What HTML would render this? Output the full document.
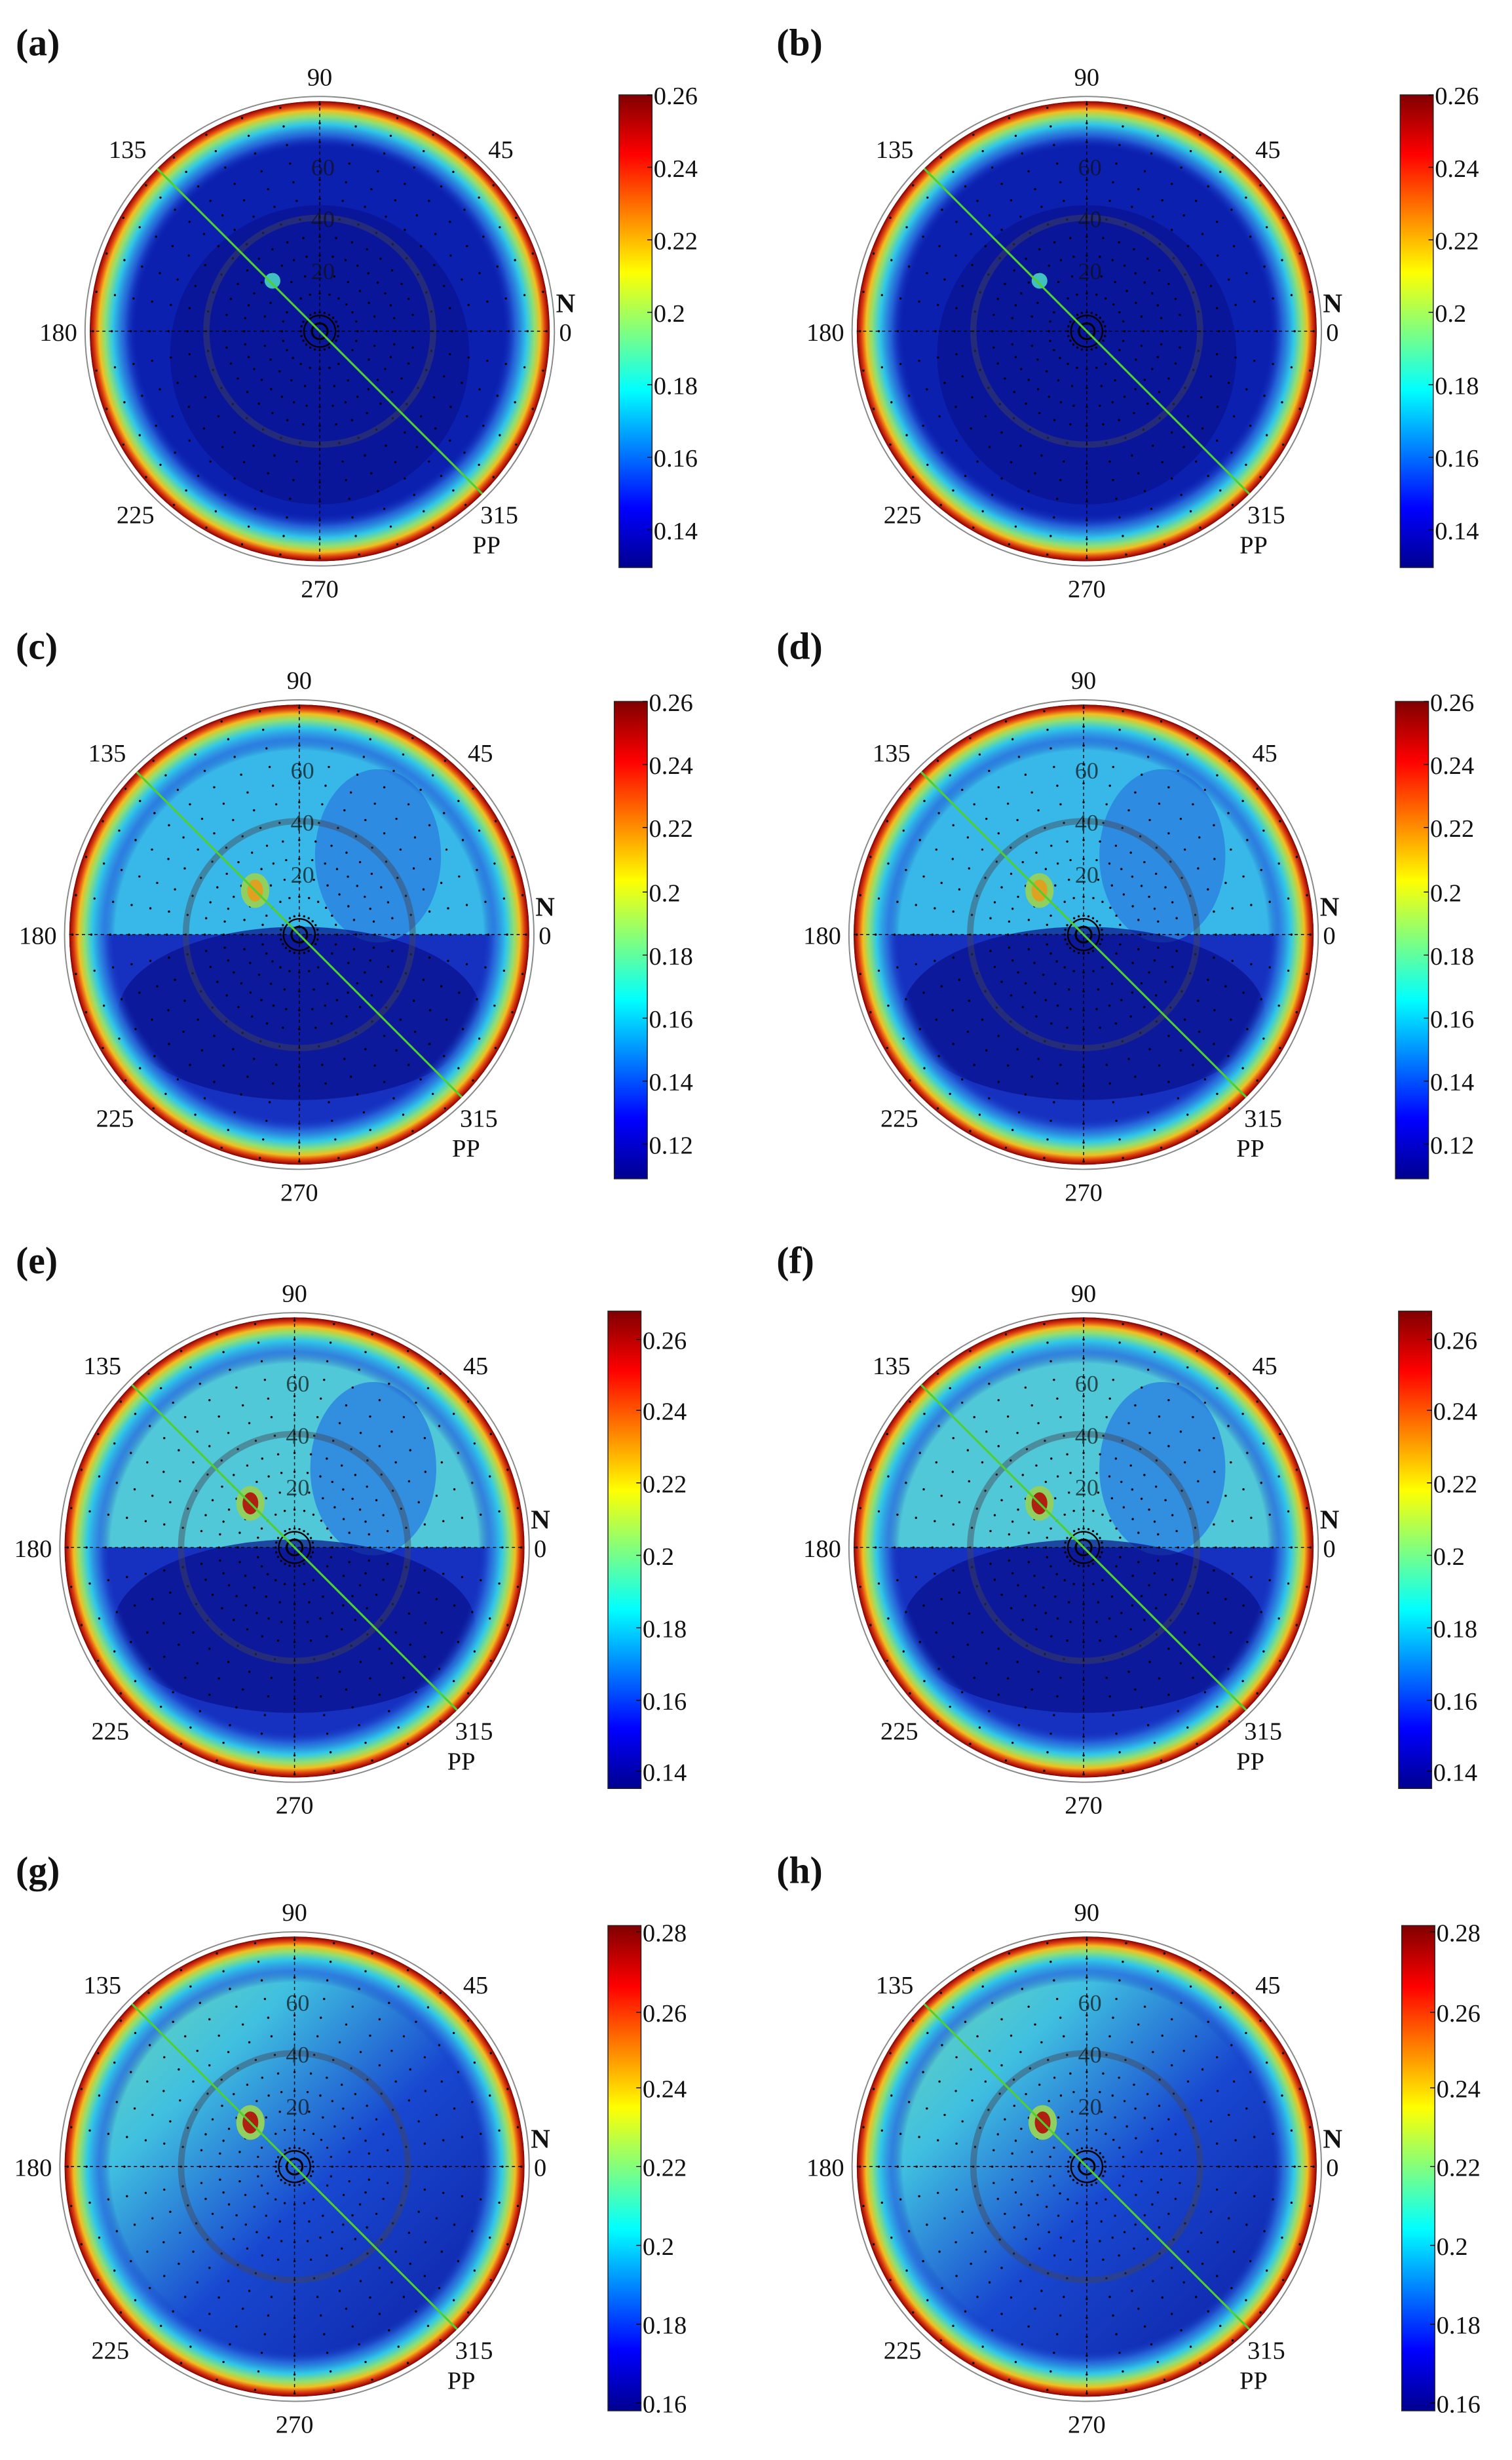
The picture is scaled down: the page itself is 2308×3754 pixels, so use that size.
<!DOCTYPE html>
<html><head><meta charset="utf-8"><style>
html,body{margin:0;padding:0;background:#fff;}
svg{display:block;}
text{font-family:"Liberation Serif",serif;fill:#111;}
</style></head><body>
<svg id="s" width="2308" height="3754" viewBox="0 0 960 1561" xmlns="http://www.w3.org/2000/svg">
<defs>
<radialGradient id="ring" cx="0.5" cy="0.5" r="0.5">
<stop offset="0" stop-color="#1030c0" stop-opacity="0"/>
<stop offset="0.80" stop-color="#1030c0" stop-opacity="0"/>
<stop offset="0.85" stop-color="#2a70e0" stop-opacity="0.8"/>
<stop offset="0.90" stop-color="#30c8e8"/>
<stop offset="0.935" stop-color="#90e070"/>
<stop offset="0.96" stop-color="#f0c020"/>
<stop offset="0.98" stop-color="#e04010"/>
<stop offset="1" stop-color="#8a0000"/>
</radialGradient>
<linearGradient id="jet" x1="0" y1="1" x2="0" y2="0">
<stop offset="0" stop-color="#00008f"/>
<stop offset="0.125" stop-color="#0000ff"/>
<stop offset="0.375" stop-color="#00ffff"/>
<stop offset="0.625" stop-color="#ffff00"/>
<stop offset="0.875" stop-color="#ff0000"/>
<stop offset="1" stop-color="#800000"/>
</linearGradient>
<linearGradient id="gdiag" x1="0" y1="0" x2="1" y2="1">
<stop offset="0" stop-color="#80e0a0"/>
<stop offset="0.3" stop-color="#40c0e0"/>
<stop offset="0.55" stop-color="#1848d0"/>
<stop offset="1" stop-color="#0a1498"/>
</linearGradient>
</defs>
<g id="root"></g>
</svg>
<script>
var P=[
["(a)",203,210,393,60,360,[[.26,60],[.24,106],[.22,152],["0.2",198],[.18,244],[.16,290],[.14,336]],"a"],
["(b)",690,210,889,60,360,[[.26,60],[.24,106],[.22,152],["0.2",198],[.18,244],[.16,290],[.14,336]],"a"],
["(c)",190,593,390,445,748,[[.26,445],[.24,485],[.22,525],["0.2",566],[.18,606],[.16,646],[.14,686],[.12,726]],"c"],
["(d)",688,593,886,445,748,[[.26,445],[.24,485],[.22,525],["0.2",566],[.18,606],[.16,646],[.14,686],[.12,726]],"c"],
["(e)",187,982,386,832,1135,[[.26,850],[.24,895],[.22,941],["0.2",987],[.18,1033],[.16,1079],[.14,1124]],"e"],
["(f)",688,982,888,832,1135,[[.26,850],[.24,895],[.22,941],["0.2",987],[.18,1033],[.16,1079],[.14,1124]],"e"],
["(g)",187,1375,386,1222,1530,[[.28,1226],[.26,1277],[.24,1325],[.22,1375],["0.2",1425],[.18,1475],[.16,1525]],"g"],
["(h)",690,1375,890,1222,1530,[[.28,1226],[.26,1277],[.24,1325],[.22,1375],["0.2",1425],[.18,1475],[.16,1525]],"g"]];
var LY=[35,35,418,418,808,808,1195,1195];
var h="";
function t(x,y,s,sz,extra){return '<text x="'+x+'" y="'+y+'" font-size="'+(sz||16)+'" '+(extra||'')+'>'+s+'</text>';}
P.forEach(function(p,i){
 var L=p[0],cx=p[1],cy=p[2],R=146,ty=p[7];
 var lx=(i%2==0)?10:493;
 h+=t(lx,LY[i],L,24,'font-weight="bold"');
 h+='<circle cx="'+cx+'" cy="'+cy+'" r="'+(R+3)+'" fill="#fff" stroke="#888" stroke-width="0.8"/>';
 if(ty=="g"){
  h+='<circle cx="'+cx+'" cy="'+cy+'" r="'+R+'" fill="url(#gdiag)"/>';
 } else {
  h+='<circle cx="'+cx+'" cy="'+cy+'" r="'+R+'" fill="'+(ty=="a"?"#0c20b0":"#1630c0")+'"/>';
  if(ty=="a"){
   h+='<circle cx="'+cx+'" cy="'+(cy+15)+'" r="95" fill="#081290" opacity="0.7"/>';
  } else {
   var col=ty=="c"?"#38b8e8":"#50c8d8";
   h+='<path d="M'+(cx-R)+','+cy+' A'+R+','+R+' 0 0 1 '+(cx+R)+','+cy+' Z" fill="'+col+'"/>';
   h+='<ellipse cx="'+(cx+50)+'" cy="'+(cy-50)+'" rx="40" ry="55" fill="#2a80e0" opacity="0.8"/>';
   h+='<ellipse cx="'+cx+'" cy="'+(cy+50)+'" rx="115" ry="55" fill="#08108a" opacity="0.7"/>';
  }
 }
 h+='<circle cx="'+cx+'" cy="'+cy+'" r="'+R+'" fill="url(#ring)"/>';
 for(var r=12;r<R;r+=12){for(var a=0;a<360;a+=(r<40?15:10)){var ar=a*Math.PI/180;h+='<circle cx="'+(cx+r*Math.cos(ar)).toFixed(1)+'" cy="'+(cy-r*Math.sin(ar)).toFixed(1)+'" r="0.7" fill="#000"/>';}}
 h+='<circle cx="'+cx+'" cy="'+cy+'" r="72" fill="none" stroke="#445" stroke-opacity="0.45" stroke-width="4"/>';
 h+='<circle cx="'+cx+'" cy="'+cy+'" r="5" fill="none" stroke="#000" stroke-width="1.3"/><circle cx="'+cx+'" cy="'+cy+'" r="10" fill="none" stroke="#000" stroke-width="1"/>';
 h+='<line x1="'+(cx-R)+'" y1="'+cy+'" x2="'+(cx+R)+'" y2="'+cy+'" stroke="#000" stroke-width="0.6" stroke-dasharray="2,2"/>';
 h+='<line x1="'+cx+'" y1="'+(cy-R)+'" x2="'+cx+'" y2="'+(cy+R)+'" stroke="#000" stroke-width="0.6" stroke-dasharray="2,2"/>';
 if(ty!="a"){h+='<ellipse cx="'+(cx-28)+'" cy="'+(cy-28)+'" rx="9" ry="11" fill="#90d060"/><ellipse cx="'+(cx-28)+'" cy="'+(cy-28)+'" rx="5" ry="7" fill="'+(ty=="c"?"#e0a020":"#b02010")+'"/>';}
 else {h+='<circle cx="'+(cx-30)+'" cy="'+(cy-32)+'" r="5" fill="#40c0c0"/>';}
 var d=R*0.7071;
 h+='<line x1="'+(cx-d)+'" y1="'+(cy-d)+'" x2="'+(cx+d)+'" y2="'+(cy+d)+'" stroke="#50d030" stroke-width="1.3"/>';
 h+=t(cx,cy-R-10,"90",16,'text-anchor="middle"');
 h+=t(cx,cy+R+23,"270",16,'text-anchor="middle"');
 h+=t(cx-R-8,cy+6,"180",16,'text-anchor="end"');
 h+=t(cx+R+6,cy+6,"0",16);
 h+=t(cx+R+4,cy-12,"N",17,'font-weight="bold"');
 h+=t(cx+107,cy-110,"45",16);
 h+=t(cx-110,cy-110,"135",16,'text-anchor="end"');
 h+=t(cx-105,cy+122,"225",16,'text-anchor="end"');
 h+=t(cx+102,cy+122,"315",16);
 h+=t(cx+97,cy+141,"PP",16);
 h+=t(cx+2,cy-99,"60",15,'text-anchor="middle" fill-opacity="0.7"');
 h+=t(cx+2,cy-66,"40",15,'text-anchor="middle" fill-opacity="0.7"');
 h+=t(cx+2,cy-33,"20",15,'text-anchor="middle" fill-opacity="0.7"');
 var bx=p[3];
 h+='<rect x="'+bx+'" y="'+p[4]+'" width="21" height="'+(p[5]-p[4])+'" fill="url(#jet)" stroke="#222" stroke-width="0.6"/>';
 p[6].forEach(function(k){h+='<line x1="'+(bx+21)+'" y1="'+k[1]+'" x2="'+(bx+18)+'" y2="'+k[1]+'" stroke="#000" stroke-width="0.6"/>';h+=t(bx+22,k[1]+6,String(k[0]).replace(/^0?\./,"0."),16);});
});
document.getElementById("root").innerHTML=h;
</script>
</body></html>
